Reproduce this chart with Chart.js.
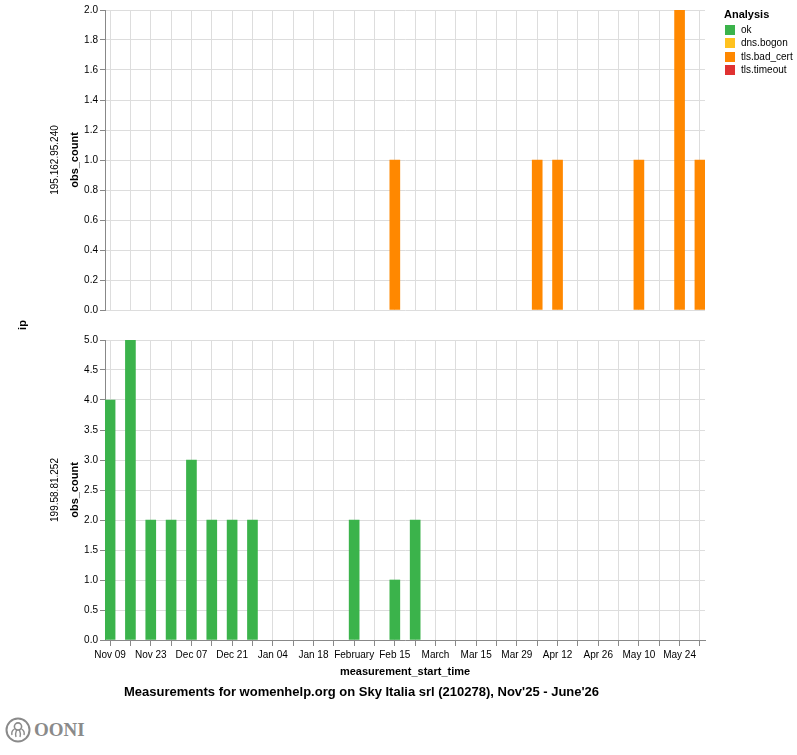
<!DOCTYPE html>
<html>
<head>
<meta charset="utf-8">
<script src="https://cdn.jsdelivr.net/npm/chart.js@4/dist/chart.umd.min.js"></script>
<style>
  body { margin: 0; background: #fff; font-family: "Liberation Sans", Arial, sans-serif; }
  #wrap { position: relative; width: 797px; height: 755px; }
  .panel { position: absolute; left: 0; width: 797px; }
  .lbl { position: absolute; white-space: nowrap; color: #000; }
  .rot { transform: translate(-50%, -50%) rotate(-90deg); }
  .b11 { font-weight: bold; font-size: 11px; }
  .n10 { font-size: 10px; }
  .legend { position: absolute; left: 724px; top: 8px; font-size: 10px; }
  .legend .head { font-weight: bold; font-size: 11px; margin-bottom: 3px; }
  .legend .row { height: 13.5px; line-height: 12px; display: flex; align-items: center; }
  .legend .sw { width: 10px; height: 10px; margin: 0 6px 0 1px; }
</style>
</head>
<body>
<div id="wrap">
  <div class="panel" style="top:0;height:320px"><canvas id="topChart"></canvas></div>
  <div class="panel" style="top:330px;height:345px"><canvas id="bottomChart"></canvas></div>

  <div class="lbl b11 rot" style="left:22px;top:325px">ip</div>
  <div class="lbl n10 rot" style="left:54px;top:160px">195.162.95.240</div>
  <div class="lbl b11 rot" style="left:74px;top:160px">obs_count</div>
  <div class="lbl n10 rot" style="left:54px;top:490px">199.58.81.252</div>
  <div class="lbl b11 rot" style="left:74px;top:490px">obs_count</div>
  <div class="lbl b11" style="left:405px;top:665px;transform:translateX(-50%)">measurement_start_time</div>
  <div class="lbl" style="left:124px;top:684px;font-weight:bold;font-size:13px">Measurements for womenhelp.org on Sky Italia srl (210278), Nov'25 - June'26</div>

  <div class="legend" id="legend"><div class="head">Analysis</div></div>

  <div style="position:absolute;left:5px;top:717px;display:flex;align-items:center;color:#8a8a8a">
    <svg width="26" height="26" viewBox="0 0 26 26">
      <circle cx="13" cy="13" r="11.5" fill="none" stroke="#8a8a8a" stroke-width="2"/>
      <circle cx="13" cy="9.5" r="3.6" fill="none" stroke="#8a8a8a" stroke-width="1.6"/>
      <path d="M9.5 12 Q6 14 7 18 M11.5 13 Q10 17 11 20 M14.5 13 Q16 17 15 20 M16.5 12 Q20 14 19 18" fill="none" stroke="#8a8a8a" stroke-width="1.4"/>
    </svg>
    <span style="font-family:'Liberation Serif','DejaVu Serif',serif;font-weight:bold;font-size:19px;margin-left:3px">OONI</span>
  </div>
</div>

<script>
const weeks = ['Nov 09', 'Nov 16', 'Nov 23', 'Nov 30', 'Dec 07', 'Dec 14', 'Dec 21', 'Dec 28',
    'Jan 04', 'Jan 11', 'Jan 18', 'Jan 25', 'Feb 01', 'Feb 08', 'Feb 15', 'Feb 22',
    'Mar 01', 'Mar 08', 'Mar 15', 'Mar 22', 'Mar 29', 'Apr 05', 'Apr 12', 'Apr 19',
    'Apr 26', 'May 03', 'May 10', 'May 17', 'May 24', 'May 31'];
const tickLabels = ['Nov 09', '', 'Nov 23', '', 'Dec 07', '', 'Dec 21', '', 'Jan 04', '', 'Jan 18', '',
    'February', '', 'Feb 15', '', 'March', '', 'Mar 15', '', 'Mar 29', '', 'Apr 12', '',
    'Apr 26', '', 'May 10', '', 'May 24', ''];

const analysisNames = ['ok', 'dns.bogon', 'tls.bad_cert', 'tls.timeout'];
const analysisColors = ['#3bb34b', '#ffc21f', '#ff8800', '#e03232'];

// 195.162.95.240
const topBadCert = [0, 0, 0, 0, 0, 0, 0, 0, 0, 0, 0, 0, 0, 0, 1, 0,
    0, 0, 0, 0, 0, 1, 1, 0, 0, 0, 1, 0, 2, 1];
const topTicks = [0, 0.2, 0.4, 0.6, 0.8, 1.0, 1.2, 1.4, 1.6, 1.8, 2.0];

// 199.58.81.252
const bottomOk = [4, 5, 2, 2, 3, 2, 2, 2, 0, 0, 0, 0, 2, 0, 1, 2,
    0, 0, 0, 0, 0, 0, 0, 0, 0, 0, 0, 0, 0, 0];
const bottomTicks = [0, 0.5, 1.0, 1.5, 2.0, 2.5, 3.0, 3.5, 4.0, 4.5, 5.0];

const legendBox = document.getElementById('legend');
analysisNames.forEach((name, i) => {
    legendBox.innerHTML += `<div class="row"><span class="sw" style="background:${analysisColors[i]}"></span>${name}</div>`;
});

const FONT = "'Liberation Sans', Arial, sans-serif";

function makePanel(id, values, color, yTicks, showX) {
    const ctx = document.getElementById(id).getContext('2d');
    const points = values.map((v, i) => ({ x: i, y: v })).filter(p => p.y > 0);
    return new Chart(ctx, {
        type: 'bar',
        data: {
            datasets: [{
                data: points,
                backgroundColor: color,
                barThickness: 10,
                borderWidth: 0
            }]
        },
        options: {
            responsive: true,
            maintainAspectRatio: false,
            animation: false,
            layout: { padding: { top: 10, right: 92, left: 0, bottom: 0 } },
            plugins: { legend: { display: false }, tooltip: { enabled: false } },
            scales: {
                x: {
                    type: 'linear',
                    offset: false,
                    min: -0.25,
                    max: weeks.length - 0.75,
                    afterBuildTicks: s => { s.ticks = weeks.map((w, i) => ({ value: i })); },
                    afterFit: s => { s.height = showX ? 35 : 10; },
                    grid: { offset: false, color: '#dddddd', tickColor: '#888888', tickLength: 6, drawTicks: showX },
                    border: { display: showX, color: '#888888' },
                    ticks: {
                        display: showX,
                        autoSkip: false,
                        maxRotation: 0,
                        padding: 3,
                        color: '#000',
                        font: { family: FONT, size: 10 },
                        callback: v => tickLabels[v]
                    }
                },
                y: {
                    min: yTicks[0],
                    max: yTicks[yTicks.length - 1],
                    afterBuildTicks: s => { s.ticks = yTicks.map(v => ({ value: v })); },
                    afterFit: s => { s.width = 105; },
                    grid: { color: '#dddddd', tickColor: '#888888', tickLength: 5 },
                    border: { color: '#888888' },
                    ticks: {
                        padding: 2,
                        color: '#000',
                        font: { family: FONT, size: 10 },
                        callback: v => v.toFixed(1)
                    }
                }
            }
        }
    });
}

makePanel('topChart', topBadCert, analysisColors[2], topTicks, false);
makePanel('bottomChart', bottomOk, analysisColors[0], bottomTicks, true);
</script>
</body>
</html>
